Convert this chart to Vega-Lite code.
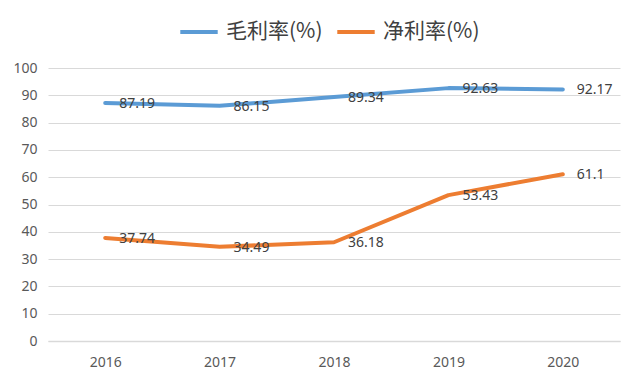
{
  "$schema": "https://vega.github.io/schema/vega-lite/v6.json",
  "width": 572,
  "height": 273,
  "autosize": {"type": "none"},
  "padding": {"left": 48, "top": 68, "right": 20, "bottom": 44},
  "background": "white",
  "config": {
    "view": {"stroke": null},
    "font": "Noto Sans",
    "axis": {"labelFont": "Noto Sans", "labelFontSize": 14, "labelColor": "#595959", "ticks": false, "title": null}
  },
  "data": {
    "values": [
      {"year": "2016", "series": "毛利率(%)", "value": 87.19},
      {"year": "2017", "series": "毛利率(%)", "value": 86.15},
      {"year": "2018", "series": "毛利率(%)", "value": 89.34},
      {"year": "2019", "series": "毛利率(%)", "value": 92.63},
      {"year": "2020", "series": "毛利率(%)", "value": 92.17},
      {"year": "2016", "series": "净利率(%)", "value": 37.74},
      {"year": "2017", "series": "净利率(%)", "value": 34.49},
      {"year": "2018", "series": "净利率(%)", "value": 36.18},
      {"year": "2019", "series": "净利率(%)", "value": 53.43},
      {"year": "2020", "series": "净利率(%)", "value": 61.1}
    ]
  },
  "encoding": {
    "x": {
      "field": "year", "type": "ordinal",
      "scale": {"type": "point", "padding": 0.5},
      "axis": {"labelAngle": 0, "domainColor": "#d9d9d9", "domainWidth": 1.5, "labelPadding": 14, "grid": false}
    },
    "y": {
      "field": "value", "type": "quantitative",
      "scale": {"domain": [0, 100], "nice": false},
      "axis": {"values": [0,10,20,30,40,50,60,70,80,90,100], "domain": false, "gridColor": "#d9d9d9", "gridWidth": 1, "labelPadding": 11}
    }
  },
  "layer": [
    {
      "mark": {"type": "line", "strokeWidth": 4, "strokeCap": "round", "strokeJoin": "round"},
      "encoding": {
        "color": {
          "field": "series", "type": "nominal",
          "scale": {"domain": ["毛利率(%)", "净利率(%)"], "range": ["#5b9bd5", "#ed7d31"]},
          "legend": {
            "orient": "none", "legendX": 130, "legendY": -57, "direction": "horizontal", "title": null,
            "symbolType": "stroke", "symbolSize": 1400, "symbolStrokeWidth": 4,
            "labelFont": "Noto Sans CJK SC", "labelFontSize": 21, "labelColor": "#404040",
            "labelOffset": 6, "columnPadding": 6, "labelLimit": 200
          }
        }
      }
    },
    {
      "mark": {"type": "text", "align": "left", "baseline": "middle", "dx": 14, "dy": 1, "fontSize": 14, "color": "#404040", "font": "Noto Sans"},
      "encoding": {"text": {"field": "value", "type": "quantitative"}}
    }
  ]
}
